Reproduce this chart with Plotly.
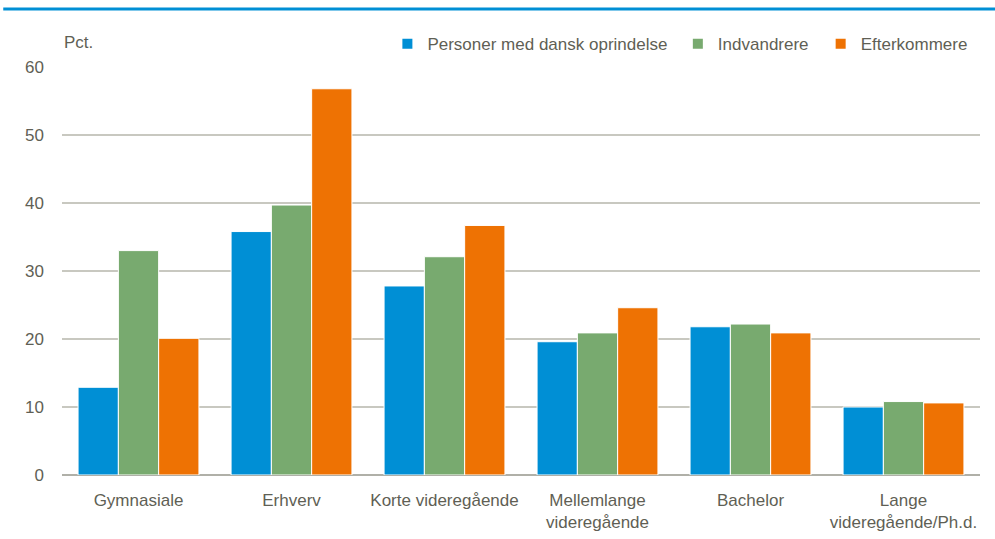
import plotly.graph_objects as go

categories = ["Gymnasiale", "Erhverv", "Korte videregående", "Mellemlange<br>videregående", "Bachelor", "Lange<br>videregående/Ph.d."]
series_names = ["Personer med dansk oprindelse", "Indvandrere", "Efterkommere"]
dansk = [12.9, 35.8, 27.8, 19.6, 21.8, 10.0]
indvandrere = [33.0, 39.7, 32.1, 20.9, 22.2, 10.8]
efterkommere = [20.1, 56.8, 36.7, 24.6, 20.9, 10.6]
colors = ["#008FD5", "#78AA6F", "#EE7203"]
y_ticks = [0, 10, 20, 30, 40, 50, 60]

FONT = "Liberation Sans Narrow, Arial Narrow, Liberation Sans, Arial, sans-serif"
TXT = "#5f5f55"

legend_ids = ["legend", "legend2", "legend3"]
legend_x = [0.666, 0.819, 0.992]

fig = go.Figure()
for name, vals, col, lg in zip(series_names, [dansk, indvandrere, efterkommere], colors, legend_ids):
    fig.add_trace(go.Bar(x=categories, y=vals, name=name, marker_color=col,
                         marker_line_color="white", marker_line_width=1, legend=lg))

legend_common = dict(orientation="h", xanchor="right", y=1.056, yanchor="middle",
                     font=dict(family=FONT, size=17, color=TXT),
                     bgcolor="rgba(0,0,0,0)", itemsizing="constant")

fig.update_layout(
    width=995, height=539,
    margin=dict(l=62, r=15, t=67, b=64, autoexpand=False),
    paper_bgcolor="white", plot_bgcolor="white",
    barmode="group", bargap=0.21, bargroupgap=0.0,
    font=dict(family=FONT, size=17, color=TXT),
    showlegend=True,
    legend=dict(x=legend_x[0], **legend_common),
    legend2=dict(x=legend_x[1], **legend_common),
    legend3=dict(x=legend_x[2], **legend_common),
    xaxis=dict(showgrid=False, ticks="", automargin=False, ticklabelstandoff=13,
               tickfont=dict(family=FONT, size=17, color=TXT), showline=False),
    yaxis=dict(range=[0, 60], tickvals=y_ticks, showgrid=True, gridcolor="#C8C8C0",
               gridwidth=1.5, zeroline=True, zerolinecolor="#B0B0A8", zerolinewidth=1.5,
               ticks="", automargin=False, ticklabelstandoff=17,
               tickfont=dict(family=FONT, size=17, color=TXT)),
    shapes=[dict(type="line", xref="paper", yref="paper", x0=-0.064, x1=1.02, y0=1.142, y1=1.142,
                 line=dict(color="#008FD5", width=3))],
    annotations=[dict(text="Pct.", xref="paper", yref="paper", x=0.0, y=1.061,
                      xanchor="left", yanchor="middle", showarrow=False,
                      font=dict(family=FONT, size=17, color=TXT))],
)

fig.write_html("out.html", config={"displayModeBar": False},
               post_script="document.body.style.margin='0';document.body.style.padding='0';")
